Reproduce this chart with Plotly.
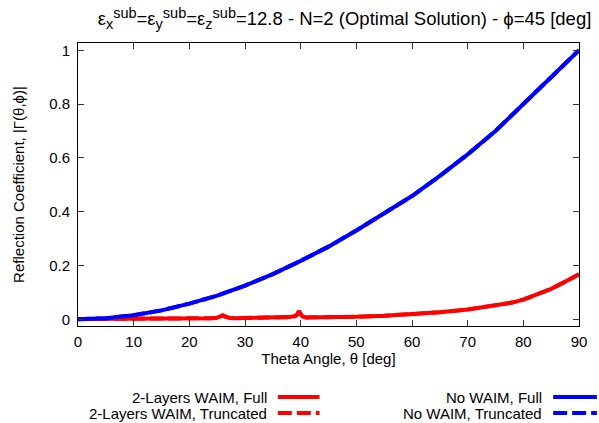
import plotly.graph_objects as go

# --- data ---
theta_blue = [0, 5, 10, 15, 20, 25, 30, 35, 40, 45, 50, 55, 60, 65, 70, 75, 80, 85, 90]
no_waim = [0.0, 0.004, 0.015, 0.033, 0.058, 0.088, 0.125, 0.168, 0.217, 0.27, 0.33,
           0.393, 0.458, 0.533, 0.613, 0.70, 0.80, 0.90, 1.0]

theta_red = [0, 5, 10, 15, 20, 24, 25, 25.5, 26, 26.5, 27, 28, 30, 35, 38, 39, 39.4, 39.7,
             40.0, 40.3, 41, 45, 50, 55, 60, 65, 70, 75, 78, 80, 82, 85, 88, 90]
waim2 = [0.001, 0.001, 0.002, 0.002, 0.003, 0.004, 0.006, 0.011, 0.014, 0.010, 0.006, 0.004,
         0.005, 0.006, 0.008, 0.012, 0.018, 0.030, 0.018, 0.010, 0.007, 0.007, 0.009, 0.013,
         0.018, 0.026, 0.036, 0.050, 0.062, 0.073, 0.088, 0.113, 0.145, 0.167]

x_ticks = [0, 10, 20, 30, 40, 50, 60, 70, 80, 90]
y_ticks = [0, 0.2, 0.4, 0.6, 0.8, 1]
y_tick_text = ["0", "0.2", "0.4", "0.6", "0.8", "1"]

legend_names = ["2-Layers WAIM, Full", "2-Layers WAIM, Truncated", "No WAIM, Full", "No WAIM, Truncated"]

RED = "#ff0000"
BLUE = "#0000ff"
FONT = "Liberation Sans, Arial, sans-serif"

fig = go.Figure()
# truncated (dashed) series underneath, full (solid) on top
fig.add_trace(go.Scatter(x=theta_red, y=waim2, mode="lines", name=legend_names[1],
                         line=dict(color=RED, width=4, dash="13px,5px"), showlegend=False))
fig.add_trace(go.Scatter(x=theta_blue, y=no_waim, mode="lines", name=legend_names[3],
                         line=dict(color=BLUE, width=4, dash="13px,5px"), showlegend=False))
fig.add_trace(go.Scatter(x=theta_red, y=waim2, mode="lines", name=legend_names[0],
                         line=dict(color=RED, width=4), showlegend=False))
fig.add_trace(go.Scatter(x=theta_blue, y=no_waim, mode="lines", name=legend_names[2],
                         line=dict(color=BLUE, width=4), showlegend=False))

L, R, T, B = 78, 17, 43, 97
W, H = 599, 423
pw, ph = W - L - R, H - T - B

def px(xp):
    return (xp - L) / pw

def py(yp):
    return (H - B - yp) / ph

# manual legend (text right-aligned, sample on the right, gnuplot style)
entries = [
    (legend_names[0], 270, 279, 321, 397, RED, "solid"),
    (legend_names[1], 270, 279, 321, 413, RED, "14px,5px"),
    (legend_names[2], 547, 556, 600, 397, BLUE, "solid"),
    (legend_names[3], 547, 556, 600, 413, BLUE, "14px,5px"),
]
for name, tx, x0, x1, yy, col, dash in entries:
    fig.add_annotation(x=px(tx), y=py(yy), xref="paper", yref="paper", text=name,
                       showarrow=False, xanchor="right", yanchor="middle",
                       font=dict(family=FONT, size=15, color="black"))
    fig.add_shape(type="line", xref="paper", yref="paper", x0=px(x0), x1=px(x1),
                  y0=py(yy), y1=py(yy), line=dict(color=col, width=4, dash=dash))

def ss(t):
    return '<span style="font-size:14.5px">' + t + '</span>'

title_text = ("ε<sub>" + ss("x") + "</sub><sup>" + ss("sub") + "</sup>="
              "ε<sub>" + ss("y") + "</sub><sup>" + ss("sub") + "</sup>="
              "ε<sub>" + ss("z") + "</sub><sup>" + ss("sub") + "</sup>"
              "=12.8 - N=2 (Optimal Solution) - ϕ=45 [deg]")

fig.update_layout(
    width=W, height=H,
    margin=dict(l=L, r=R, t=T, b=B),
    paper_bgcolor="white", plot_bgcolor="white",
    font=dict(family=FONT, size=15, color="black"),
    title=dict(text=title_text,
               x=344.5 / W, xanchor="center", y=1 - 19 / H, yanchor="middle",
               font=dict(family=FONT, size=18.5, color="black")),
    showlegend=False,
)
fig.update_xaxes(range=[0, 90], tickvals=x_ticks, ticks="inside", ticklen=6, tickcolor="#333",
                 showline=True, linecolor="black", linewidth=1, mirror="allticks",
                 showgrid=False, zeroline=False, ticklabelstandoff=2,
                 title=dict(text="Theta Angle, θ [deg]", font=dict(size=15), standoff=2),
                 tickfont=dict(size=15))
fig.update_yaxes(range=[-0.025, 1.027], tickvals=y_ticks, ticktext=y_tick_text,
                 ticks="inside", ticklen=6, tickcolor="#333",
                 showline=True, linecolor="black", linewidth=1, mirror="allticks",
                 showgrid=False, zeroline=False, ticklabelstandoff=4,
                 title=dict(text="Reflection Coefficient, |Γ(θ,ϕ)|", font=dict(size=15), standoff=20),
                 tickfont=dict(size=15))

fig.write_html("out.html")
